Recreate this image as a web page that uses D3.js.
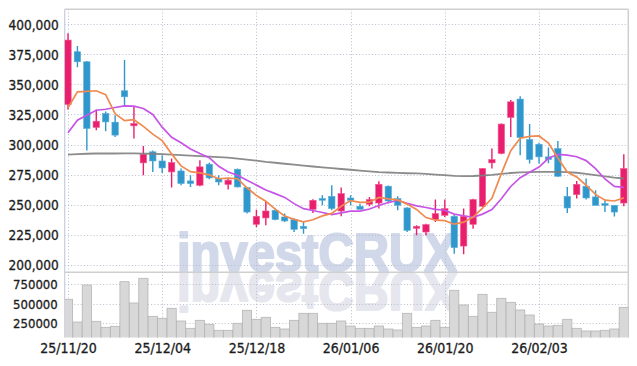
<!DOCTYPE html>
<html><head><meta charset="utf-8">
<script src="https://cdn.jsdelivr.net/npm/d3@7"></script>
<style>html,body{margin:0;padding:0;background:#fff;} svg{display:block;}</style>
</head><body><svg id="c" width="637" height="366"></svg>
<script>
const dates = ["25/11/20","25/11/21","25/11/24","25/11/25","25/11/26","25/11/27","25/11/28","25/12/01","25/12/02","25/12/03",
"25/12/04","25/12/05","25/12/08","25/12/09","25/12/10","25/12/11","25/12/12","25/12/15","25/12/16","25/12/17",
"25/12/18","25/12/19","25/12/22","25/12/23","25/12/24","25/12/26","25/12/29","25/12/30","26/01/02","26/01/05",
"26/01/06","26/01/07","26/01/08","26/01/09","26/01/12","26/01/13","26/01/14","26/01/15","26/01/16","26/01/19",
"26/01/20","26/01/21","26/01/22","26/01/23","26/01/26","26/01/27","26/01/28","26/01/29","26/01/30","26/02/02",
"26/02/03","26/02/04","26/02/05","26/02/06","26/02/09","26/02/10","26/02/11","26/02/12","26/02/13","26/02/19"];
const tickLabels = ["25/11/20","25/12/04","25/12/18","26/01/06","26/01/20","26/02/03"];
const open  = [333300,377200,368800,314200,325800,318600,344700,315500,284700,293900,286300,277200,278000,269700,266100,283600,271700,266700,279400,264200,233600,238900,245300,239700,237500,231900,246100,255000,256900,244700,255500,248600,250300,251300,265300,255000,247200,230300,227200,237500,241100,240300,215500,233600,248600,284700,292500,322500,337800,304200,300200,289700,296700,256900,258300,265300,256400,250800,249400,251300];
const high  = [392500,381900,369500,329200,327500,324400,370300,332000,298800,295000,291100,288300,280000,274400,286900,284900,274400,272000,280000,264700,245800,252200,246700,242500,238600,235600,254400,257800,266100,264200,257800,250800,256400,269400,265900,256900,247800,232800,234000,254200,254200,241500,246700,254800,280500,296700,317500,337000,340200,317000,301500,297500,303000,264700,269700,271700,261900,253000,249400,291900];
const low   = [329200,364200,295000,311900,311100,306300,331900,305000,274400,277200,276300,264200,266100,264700,265300,271000,266100,262500,264200,242500,231300,232800,236900,235600,227200,225800,243000,249400,245300,240300,249400,246100,248600,246700,252200,245300,227200,224400,224400,235600,239700,209200,208600,230000,248000,280000,291900,306300,291100,284200,284200,284500,273000,243000,255000,254200,249400,243800,240000,248600];
const close = [386900,368800,313300,319400,318800,307800,339700,317500,291900,286300,280500,285000,267500,267500,281400,272200,268800,270300,264700,243800,240300,244700,237500,236400,229400,230000,253600,253600,246700,259200,253600,246100,254200,266900,253000,249400,228600,231900,233300,242500,246700,214200,240300,254200,280000,287500,317000,335500,305800,287500,289700,287500,273600,247200,266900,255500,249400,249400,243800,280000];
const volume = [556700,264100,741000,273200,195800,208700,783500,509000,827300,337600,311800,440600,277000,183000,286000,234500,157200,157200,247400,414900,299000,324700,195800,174000,286000,376300,376300,247400,247400,277000,212600,183000,183000,212600,174000,161100,376300,195800,212600,286000,195800,672700,483200,337600,621100,389200,569600,518000,418800,354400,238400,212600,221600,299000,183000,148200,148200,157200,174000,453600];
const ma5 = [330600,343800,344200,344700,341400,325600,319800,320600,315100,308600,303200,292200,282200,277400,276400,274700,271500,272000,271500,264000,257600,252800,246200,240500,237700,235600,237400,240600,242700,248600,253300,251800,252000,256000,254800,253900,250400,246000,239200,237100,236600,233700,235400,239600,247100,255200,275800,294800,305200,306700,307100,301200,288800,277100,273000,266100,258500,253700,253000,255600];
const ma10 = [309700,320200,324400,328500,329300,330800,332200,331900,330000,325000,314400,306000,301400,296300,292500,289000,281900,277100,274400,270200,266200,262100,259100,256000,250800,246600,245100,243400,241600,243100,244500,244600,246300,249300,251700,253600,251100,249000,247600,246000,245300,242100,240700,239400,242100,245900,254800,265100,272400,276900,281200,288500,291800,291100,289800,286600,279900,271300,265100,264300];
const maLong = [291500,292000,292300,292500,292500,292500,292600,292600,292400,292300,292000,291600,291200,290800,290300,289900,289500,289000,288300,287500,286600,285500,284800,284000,283200,282500,281700,281000,280300,279600,279000,278300,277600,277000,276700,276400,276100,275900,275500,275000,274500,273900,273700,273800,274200,274800,275600,276300,276800,277100,277300,277300,277200,277000,276500,275600,274600,273400,272400,271700];
const priceTicks = [200000,225000,250000,275000,300000,325000,350000,375000,400000];
const volumeTicks = [250000,500000,750000];

const svg = d3.select("#c");
const L = 64.7, R = 628.3, T = 9.3, SEP = 272.3, B = 337.6;
const x = d3.scalePoint().domain(dates).range([68, 623.8]);
const y = d3.scaleLinear().domain([200000, 400000]).range([264.7, 24.3]);
const yv = d3.scaleLinear().domain([0, 750000]).range([342.5, 284.3]);

const defs = svg.append("defs");
defs.append("clipPath").attr("id","cp").append("rect").attr("x",L).attr("y",T).attr("width",R-L).attr("height",SEP-T);
defs.append("clipPath").attr("id","cv").append("rect").attr("x",L).attr("y",SEP).attr("width",R-L).attr("height",B-SEP);

// watermark and its reflection
function mark(g, fill) {
  g.append("text").attr("x",177).attr("y",271.2)
    .attr("font-family","Liberation Sans, Arial, sans-serif").attr("font-weight","bold")
    .attr("font-size",53).attr("textLength",280).attr("lengthAdjust","spacingAndGlyphs")
    .attr("fill",fill).attr("stroke",fill).attr("stroke-width",2.2).attr("stroke-linejoin","round")
    .text("investCRUX");
}
mark(svg.append("g"), "#d1d8e9");
mark(svg.append("g").attr("clip-path","url(#cv)").append("g").attr("transform","translate(0,544.6) scale(1,-1)"), "#e6e6ee");

// grid
const grid = svg.append("g").attr("stroke","#b9bdcc").attr("stroke-width",1).attr("stroke-dasharray","1,2.2");
grid.selectAll(".hp").data(priceTicks).join("line").attr("class","hp")
  .attr("x1",L).attr("x2",R).attr("y1",d=>Math.round(y(d))+0.5).attr("y2",d=>Math.round(y(d))+0.5);
grid.selectAll(".hv").data(volumeTicks).join("line").attr("class","hv")
  .attr("x1",L).attr("x2",R).attr("y1",d=>Math.round(yv(d))+0.5).attr("y2",d=>Math.round(yv(d))+0.5);
grid.selectAll(".vx").data(tickLabels).join("line").attr("class","vx")
  .attr("y1",T).attr("y2",B).attr("x1",d=>Math.round(x(d))+0.5).attr("x2",d=>Math.round(x(d))+0.5);

// frame
const fr = svg.append("g").attr("fill","none");
fr.append("line").attr("x1",L).attr("x2",R).attr("y1",T).attr("y2",T).attr("stroke","#cfcfcf").attr("stroke-width",1.5);
fr.append("line").attr("x1",R).attr("x2",R).attr("y1",T).attr("y2",B).attr("stroke","#cfcfcf").attr("stroke-width",1.5);
fr.append("line").attr("x1",L).attr("x2",R).attr("y1",SEP).attr("y2",SEP).attr("stroke","#cfcfcf").attr("stroke-width",1.5);
fr.append("line").attr("x1",L).attr("x2",L).attr("y1",T).attr("y2",B).attr("stroke","#c9cde0").attr("stroke-width",1.2);

// volume
const bw = 9.2;
svg.append("g").attr("clip-path","url(#cv)").selectAll("rect").data(dates).join("rect")
  .attr("x",d=>x(d)-bw/2).attr("width",bw)
  .attr("y",(d,i)=>yv(volume[i])).attr("height",(d,i)=>Math.max(0,B+2-yv(volume[i])))
  .attr("fill","#d8d8d8").attr("stroke","#b5b5b5").attr("stroke-width",0.8);

// candles
const UP = "#e91e6c", DN = "#2f97cc";
const cg = svg.append("g").attr("clip-path","url(#cp)");
const cw = 6.4;
cg.selectAll(".w").data(dates).join("line").attr("class","w")
  .attr("x1",d=>x(d)).attr("x2",d=>x(d))
  .attr("y1",(d,i)=>y(high[i])).attr("y2",(d,i)=>y(low[i]))
  .attr("stroke",(d,i)=>close[i]>=open[i]?UP:DN).attr("stroke-width",1.4);
cg.selectAll(".b").data(dates).join("rect").attr("class","b")
  .attr("x",d=>x(d)-cw/2).attr("width",cw)
  .attr("y",(d,i)=>y(Math.max(open[i],close[i])))
  .attr("height",(d,i)=>Math.max(1.5,Math.abs(y(open[i])-y(close[i]))))
  .attr("fill",(d,i)=>close[i]>=open[i]?UP:DN)
  .attr("stroke",(d,i)=>close[i]>=open[i]?"#f25a93":"#5aaed8").attr("stroke-width",0.6);

// moving averages
const line = arr => d3.line().x(d=>x(d)).y((d,i)=>y(arr[i])).curve(d3.curveLinear)(dates);
const mg = svg.append("g").attr("clip-path","url(#cp)").attr("fill","none");
mg.append("path").attr("d",line(maLong)).attr("stroke","#808080").attr("stroke-width",1.8).attr("stroke-opacity",0.9);
mg.append("path").attr("d",line(ma10)).attr("stroke","#c655e6").attr("stroke-width",1.7);
mg.append("path").attr("d",line(ma5)).attr("stroke","#ef8a50").attr("stroke-width",1.7);

// axes
const font = "DejaVu Sans Condensed, DejaVu Sans, sans-serif";
function styleText(sel, size) {
  sel.attr("font-family",font).attr("font-size",size).attr("fill","#1c1c1c")
     .attr("stroke","#1c1c1c").attr("stroke-width",0.3);
}
const ya = svg.append("g").attr("transform",`translate(${L-6},0)`)
  .call(d3.axisLeft(y).tickValues(priceTicks).tickFormat(d3.format(",")).tickSize(0).tickPadding(0));
ya.select(".domain").remove();
styleText(ya.selectAll("text").attr("dy","0.35em"), 13.5);

const va = svg.append("g").attr("transform",`translate(${L-7},0)`)
  .call(d3.axisLeft(yv).tickValues(volumeTicks).tickFormat(d3.format("d")).tickSize(0).tickPadding(0));
va.select(".domain").remove();
styleText(va.selectAll("text").attr("dy","0.35em"), 13);

const xa = svg.append("g").attr("transform",`translate(0,${B})`)
  .call(d3.axisBottom(x).tickValues(tickLabels).tickSize(0).tickPadding(0));
xa.select(".domain").remove();
styleText(xa.selectAll("text").attr("dy","15.7"), 14);
</script></body></html>
